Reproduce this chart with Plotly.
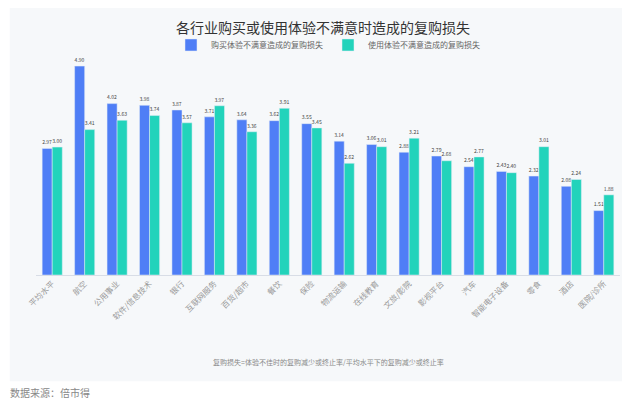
import plotly.graph_objects as go

categories = ['平均水平', '航空', '公用事业', '软件/信息技术', '银行', '互联网服务', '百货/超市', '餐饮', '保险',
              '物流运输', '在线教育', '文旅/影院', '影视平台', '汽车', '智能电子设备', '零食', '酒店', '医院/诊所']
buy = [2.97, 4.90, 4.02, 3.98, 3.87, 3.71, 3.64, 3.62, 3.55, 3.14, 3.06, 2.88, 2.79, 2.54, 2.43, 2.32, 2.08, 1.51]
use = [3.00, 3.41, 3.63, 3.74, 3.57, 3.97, 3.36, 3.91, 3.45, 2.62, 3.01, 3.21, 2.68, 2.77, 2.40, 3.01, 2.24, 1.88]

font = "Noto Sans CJK SC"
fig = go.Figure()
fig.add_bar(x=categories, y=buy, name='购买体验不满意造成的复购损失', marker_color='#4f7ef6',
            text=[f'{v:.2f}' for v in buy], textposition='outside', textfont=dict(size=8, color='#444'),
            cliponaxis=False)
fig.add_bar(x=categories, y=use, name='使用体验不满意造成的复购损失', marker_color='#22d3bb',
            text=[f'{v:.2f}' for v in use], textposition='outside', textfont=dict(size=8, color='#444'),
            cliponaxis=False)

fig.update_layout(
    width=630, height=406, font=dict(family=font, color='#555'),
    paper_bgcolor='white', plot_bgcolor='#f6f8fa',
    title=dict(text='各行业购买或使用体验不满意时造成的复购损失', x=0.5, y=0.95, xanchor='center', yanchor='middle',
               font=dict(size=14, color='#333')),
    legend=dict(orientation='h', x=0.5, xanchor='center', y=1.06, yanchor='middle',
                font=dict(size=8, color='#666'), bgcolor='rgba(0,0,0,0)', itemwidth=30),
    barmode='group', bargap=0.38, bargroupgap=0,
    margin=dict(l=28, r=18, t=50, b=139, autoexpand=False),
    showlegend=True,
    shapes=[dict(type='rect', xref='paper', yref='paper', x0=-0.045, x1=1.028, y0=-0.49, y1=1.27,
                 fillcolor='#f6f8fa', line_width=0, layer='below')],
    annotations=[
        dict(text='复购损失=体验不佳时的复购减少或终止率/平均水平下的复购减少或终止率', xref='paper', yref='paper',
             x=0.5, y=-0.40, yanchor='middle', showarrow=False, font=dict(size=7, color='#888')),
        dict(text='数据来源：倍市得', xref='paper', yref='paper', x=-0.048, xanchor='left', y=-0.54,
             yanchor='middle', showarrow=False, font=dict(size=10, color='#888')),
    ],
)
fig.update_xaxes(tickangle=-45, tickfont=dict(size=8, color='#999'), showline=True, linecolor='#d8dde6',
                 ticks='', automargin=False)
fig.update_yaxes(visible=False, range=[0, 5.09], automargin=False)
fig.write_html("out.html")
